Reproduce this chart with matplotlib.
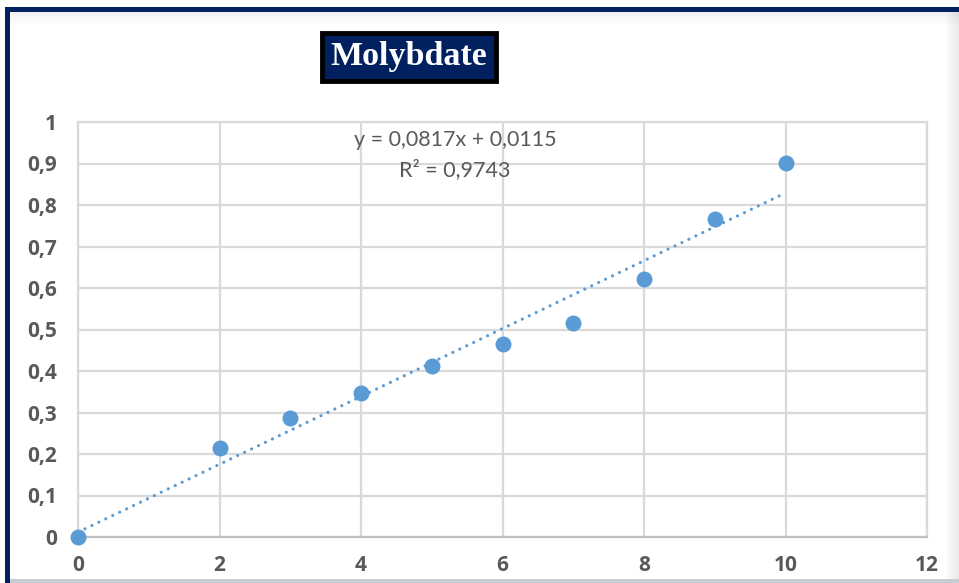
import numpy as np
import matplotlib.pyplot as plt
from matplotlib.patches import Rectangle

# values
conc = [0, 2, 3, 4, 5, 6, 7, 8, 9, 10]
absorb = [0.0, 0.215, 0.287, 0.347, 0.412, 0.465, 0.516, 0.622, 0.766, 0.901]
x_ticks = [0, 2, 4, 6, 8, 10, 12]
y_ticks = [0, 0.1, 0.2, 0.3, 0.4, 0.5, 0.6, 0.7, 0.8, 0.9, 1]
y_labels = ['0', '0,1', '0,2', '0,3', '0,4', '0,5', '0,6', '0,7', '0,8', '0,9', '1']
eq_text = 'y = 0,0817x + 0,0115'
r2_text = 'R² = 0,9743'

blue = '#5b9bd5'
grey_txt = '#595959'
navy = '#002060'

W, H = 959, 583
fig = plt.figure(figsize=(W / 100, H / 100), dpi=100)

def px(x0, y0, w, h, **kw):
    # rectangle in pixel coords (origin top-left)
    r = Rectangle((x0 / W, 1 - (y0 + h) / H), w / W, h / H, transform=fig.transFigure,
                  linewidth=0, **kw)
    fig.patches.append(r)

# frame shadows and navy border
for i in range(8):
    px(W - 14 + i * 2, 12, 2, H, color='#000000', alpha=0.012 * (i + 1))
for i in range(6):
    px(10, 12 + i * 2, W, 2, color='#000000', alpha=0.05 - i * 0.008)
px(10, H - 4, W, 4, color='#c8ccd4')
px(5, 7, W, 5, color=navy)
px(5, 7, 5, H, color=navy)

ax = fig.add_axes([78 / W, 1 - 537 / H, (927 - 78) / W, (537 - 122) / H])

ax.scatter(conc, absorb, s=11.5 ** 2, color=blue, zorder=3, linewidths=0, clip_on=False)

coef = np.polyfit(conc, absorb, 1)
xs = np.array([conc[0], conc[-1]])
ax.plot(xs, np.polyval(coef, xs), linestyle=(0, (0.01, 2.4)), color=blue, linewidth=2.3,
        dash_capstyle='round', zorder=2)

ax.set_xlim(0, 12)
ax.set_ylim(0, 1)
ax.set_xticks(x_ticks)
ax.set_yticks(y_ticks)
ax.set_yticklabels(y_labels)
ax.grid(True, color='#d9d9d9', linewidth=1.6)
ax.set_axisbelow(True)
for s in ['top', 'right', 'left']:
    ax.spines[s].set_color('#d9d9d9')
    ax.spines[s].set_linewidth(1.6)
ax.spines['bottom'].set_color('#bfbfbf')
ax.spines['bottom'].set_linewidth(1.6)
ax.tick_params(length=0, labelcolor=grey_txt)
ax.tick_params(axis='y', pad=15)
ax.tick_params(axis='x', pad=13)
for lab in ax.get_xticklabels() + ax.get_yticklabels():
    lab.set_fontfamily('Open Sans')
    lab.set_fontweight('bold')
    lab.set_fontsize(15)

ax.text(455 / W, 1 - 140 / H, eq_text, transform=fig.transFigure, ha='center', va='center',
        fontsize=15.5, color=grey_txt, family='Lato')
ax.text(455 / W, 1 - 170 / H, r2_text, transform=fig.transFigure, ha='center', va='center',
        fontsize=15.5, color=grey_txt, family='Lato')

fig.text(409 / W, 1 - 57 / H, 'Molybdate', ha='center', va='center', fontsize=24.5,
         fontweight='bold', family='Liberation Serif', color='white',
         bbox=dict(boxstyle='square,pad=0.25', facecolor=navy, edgecolor='black', linewidth=3.5))

fig.savefig('out.png', dpi=100)
